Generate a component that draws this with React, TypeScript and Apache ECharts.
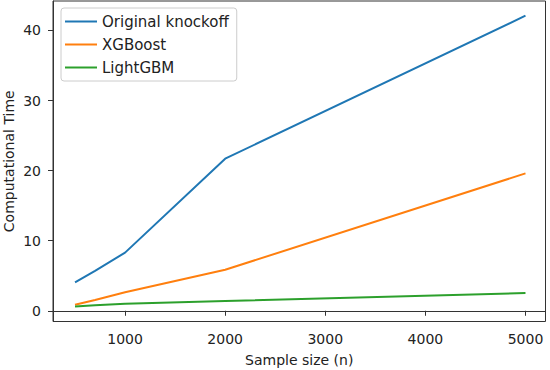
import React, { useEffect, useRef } from "react";
import * as echarts from "echarts";

// Sample sizes and computational time per method
const sampleSizes = [500, 700, 1000, 2000, 5000];
const originalKnockoff = [4.05, 5.7, 8.3, 21.7, 42.1];
const xgboost = [0.85, 1.55, 2.65, 5.85, 19.6];
const lightgbm = [0.6, 0.8, 1.0, 1.38, 2.52];

const xTicks = [1000, 2000, 3000, 4000, 5000];
const yTicks = [0, 10, 20, 30, 40];

const FONT = "DejaVu Sans";

const pairs = (ys: number[]) => sampleSizes.map((x, i) => [x, ys[i]]);

export default function App() {
  const ref = useRef<HTMLDivElement>(null);

  useEffect(() => {
    if (!ref.current) return;
    const chart = echarts.init(ref.current, null, { renderer: "svg" });
    const lineSeries = (name: string, color: string, ys: number[]) => ({
      name,
      type: "line",
      data: pairs(ys),
      showSymbol: false,
      symbol: "none",
      lineStyle: { color, width: 2 },
      itemStyle: { color },
    });
    chart.setOption({
      animation: false,
      backgroundColor: "#ffffff",
      textStyle: { fontFamily: FONT },
      grid: {
        left: 53,
        right: 4.5,
        top: 1,
        bottom: 48.5,
        outerBoundsMode: "none",
        containLabel: false,
        show: true,
        borderColor: "#333",
        borderWidth: 1,
      },
      legend: {
        orient: "vertical",
        left: 61,
        top: 8,
        padding: [6, 8, 6, 4],
        itemWidth: 32,
        itemHeight: 2,
        itemGap: 8,
        itemTextGap: 11,
        icon: "rect",
        borderColor: "#cccccc",
        borderWidth: 1,
        borderRadius: 3,
        backgroundColor: "rgba(255,255,255,0.8)",
        textStyle: { fontFamily: FONT, fontSize: 15, color: "#222", lineHeight: 14 },
        data: ["Original knockoff", "XGBoost", "LightGBM"],
      },
      xAxis: {
        type: "value",
        min: 280,
        max: 5200,
        name: "Sample size (n)",
        nameLocation: "middle",
        nameGap: 31,
        nameMoveOverlap: false,
        nameTextStyle: { fontFamily: FONT, fontSize: 14, color: "#222" },
        axisLine: { show: true, lineStyle: { color: "#333", width: 1 } },
        axisTick: {
          show: true,
          length: 5,
          customValues: xTicks,
          lineStyle: { color: "#333" },
        },
        axisLabel: {
          customValues: xTicks,
          formatter: (v: number) => String(v),
          margin: 10,
          fontFamily: FONT,
          fontSize: 14,
          color: "#222",
        },
        splitLine: { show: false },
      },
      yAxis: {
        type: "value",
        min: -1.53,
        max: 44.2,
        name: "Computational Time",
        nameLocation: "middle",
        nameGap: 37,
        nameMoveOverlap: false,
        nameTextStyle: { fontFamily: FONT, fontSize: 14, color: "#222" },
        axisLine: { show: true, lineStyle: { color: "#333", width: 1 } },
        axisTick: {
          show: true,
          length: 5,
          customValues: yTicks,
          lineStyle: { color: "#333" },
        },
        axisLabel: {
          customValues: yTicks,
          formatter: (v: number) => String(v),
          margin: 12,
          fontFamily: FONT,
          fontSize: 14,
          color: "#222",
        },
        splitLine: { show: false },
      },
      series: [
        lineSeries("Original knockoff", "#1f77b4", originalKnockoff),
        lineSeries("XGBoost", "#ff7f0e", xgboost),
        lineSeries("LightGBM", "#2ca02c", lightgbm),
      ],
    });
    return () => chart.dispose();
  }, []);

  return (
    <div
      ref={ref}
      style={{ position: "fixed", left: 0, top: 0, width: 550, height: 370, background: "#fff" }}
    />
  );
}
